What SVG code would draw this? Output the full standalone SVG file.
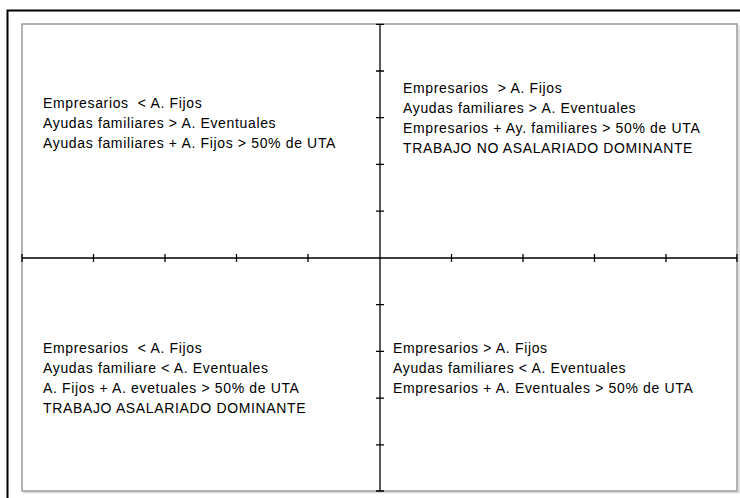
<svg xmlns="http://www.w3.org/2000/svg" width="740" height="498" viewBox="0 0 740 498">
<defs>
<style>
.frame{fill:none;stroke:#000;stroke-width:2}
.plot{fill:#fff;stroke:#9a9a9a;stroke-width:1.5}
.shadow{fill:none;stroke:#d8d8d8;stroke-width:1.5}
.axis{stroke:#000;stroke-width:1.3;fill:none}
.lbl{font-family:"Liberation Sans",Arial,sans-serif;font-size:14px;letter-spacing:0.65px;fill:#000;white-space:pre}
</style>
</defs>
<rect width="740" height="498" fill="#fff"/>
<path class="frame" d="M7.5,498 V10.5 H740"/>
<path class="shadow" d="M739,25.5 V492.5 H23.5"/>
<rect class="plot" x="22" y="24" width="715" height="467"/>
<g id="connectors">
<path class="axis" d="M22,258 H737 M380,24 V491"/>
<path class="axis" d="M22,254 V262 M93.5,254 V262 M165,254 V262 M236.5,254 V262 M308,254 V262 M451.5,254 V262 M523,254 V262 M594.5,254 V262 M666,254 V262 M737,254 V262"/>
<path class="axis" d="M376,24.3 H384 M376,71 H384 M376,117.7 H384 M376,164.4 H384 M376,211.1 H384 M376,304.7 H384 M376,351.4 H384 M376,398.1 H384 M376,444.8 H384 M376,491 H384"/>
</g>
<g id="q-top-left">
<text class="lbl" x="43" y="108" xml:space="preserve">Empresarios  &lt; A. Fijos</text>
<text class="lbl" x="43" y="128">Ayudas familiares &gt; A. Eventuales</text>
<text class="lbl" x="43" y="148">Ayudas familiares + A. Fijos &gt; 50% de UTA</text>
</g>
<g id="q-top-right">
<text class="lbl" x="403" y="93" xml:space="preserve">Empresarios  &gt; A. Fijos</text>
<text class="lbl" x="403" y="113">Ayudas familiares &gt; A. Eventuales</text>
<text class="lbl" x="403" y="133">Empresarios + Ay. familiares &gt; 50% de UTA</text>
<text class="lbl" x="403" y="153">TRABAJO NO ASALARIADO DOMINANTE</text>
</g>
<g id="q-bottom-left">
<text class="lbl" x="43" y="353" xml:space="preserve">Empresarios  &lt; A. Fijos</text>
<text class="lbl" x="43" y="373">Ayudas familiare &lt; A. Eventuales</text>
<text class="lbl" x="43" y="393">A. Fijos + A. evetuales &gt; 50% de UTA</text>
<text class="lbl" x="43" y="413">TRABAJO ASALARIADO DOMINANTE</text>
</g>
<g id="q-bottom-right">
<text class="lbl" x="393" y="353">Empresarios &gt; A. Fijos</text>
<text class="lbl" x="393" y="373">Ayudas familiares &lt; A. Eventuales</text>
<text class="lbl" x="393" y="393">Empresarios + A. Eventuales &gt; 50% de UTA</text>
</g>
</svg>
